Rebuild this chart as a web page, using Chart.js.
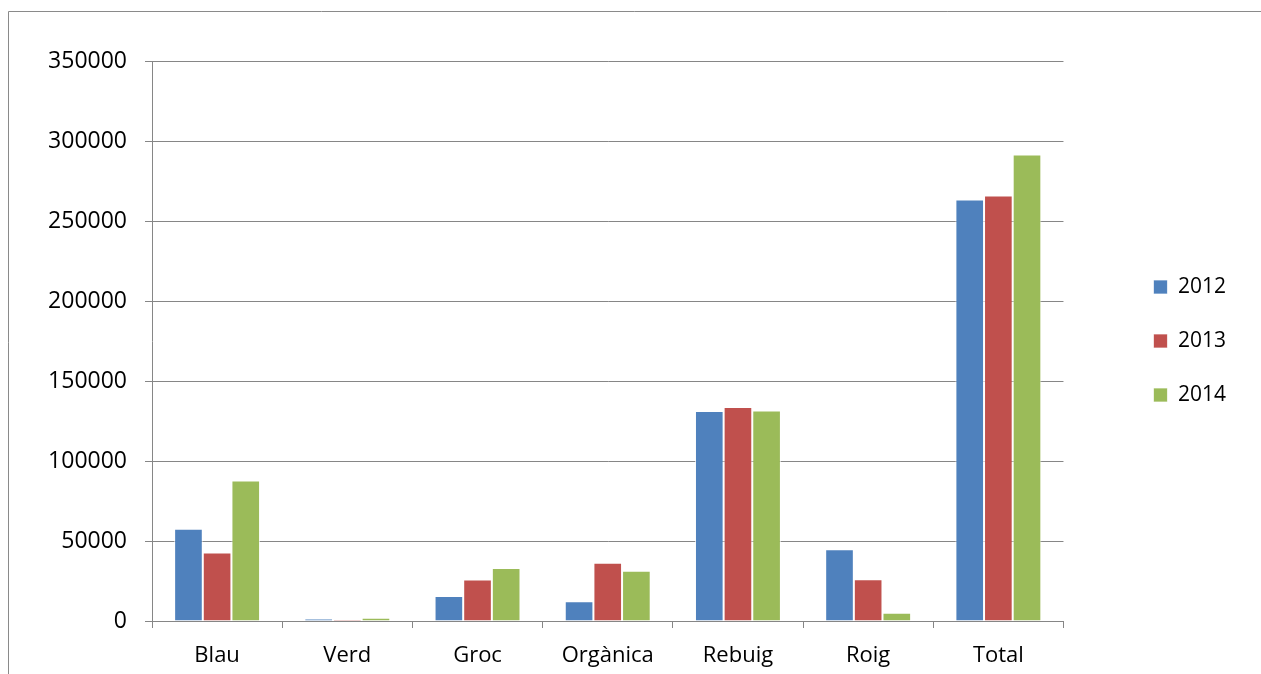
<!DOCTYPE html>
<html>
<head>
<meta charset="utf-8">
<script src="https://cdn.jsdelivr.net/npm/chart.js@4.4.1/dist/chart.umd.min.js"></script>
<style>
  html, body { margin: 0; padding: 0; background: #fff; }
  canvas { display: block; }
</style>
</head>
<body>
<canvas id="residus" width="1261" height="674"></canvas>
<script>
// Categories and series
const categories = ['Blau', 'Verd', 'Groc', 'Orgànica', 'Rebuig', 'Roig', 'Total'];
const years = ['2012', '2013', '2014'];
const values2012 = [57600, 1500, 15700, 12300, 131200, 44900, 263400];
const values2013 = [42800, 900, 25900, 36400, 133700, 26100, 265900];
const values2014 = [87800, 2000, 33200, 31400, 131600, 5100, 291600];
const yTicks = [0, 50000, 100000, 150000, 200000, 250000, 300000, 350000];

const colors = ['#4F81BD', '#C0504D', '#9BBB59'];
const gridGray = '#868686';
const fontFamily = '"Open Sans", "Noto Sans", sans-serif';

// thin frame like the Excel chart border
const framePlugin = {
    id: 'frame',
    afterDraw(chart) {
        const ctx = chart.ctx;
        ctx.save();
        ctx.strokeStyle = '#8A8A8A';
        ctx.lineWidth = 1;
        ctx.beginPath();
        ctx.moveTo(8.5, chart.height);
        ctx.lineTo(8.5, 11.5);
        ctx.lineTo(chart.width, 11.5);
        ctx.stroke();
        ctx.restore();
    }
};

const ctx = document.getElementById('residus').getContext('2d');

new Chart(ctx, {
    type: 'bar',
    data: {
        labels: categories,
        datasets: [
            { label: years[0], data: values2012, backgroundColor: colors[0] },
            { label: years[1], data: values2013, backgroundColor: colors[1] },
            { label: years[2], data: values2014, backgroundColor: colors[2] }
        ].map(ds => Object.assign(ds, {
            borderColor: 'rgba(255,255,255,0.7)',
            borderWidth: 1,
            categoryPercentage: 0.66,
            barPercentage: 1.0,
            yAxisID: 'y'
        }))
    },
    options: {
        responsive: false,
        animation: false,
        layout: { padding: { top: 61, left: 0, bottom: 0, right: 25 } },
        plugins: {
            legend: {
                position: 'right',
                fullSize: false,
                labels: {
                    boxWidth: 14,
                    boxHeight: 14,
                    padding: 33,
                    color: '#000',
                    font: { size: 21, family: fontFamily }
                }
            },
            tooltip: { enabled: false }
        },
        scales: {
            x: {
                grid: {
                    drawOnChartArea: false,
                    drawTicks: true,
                    tickLength: 7,
                    color: gridGray,
                    offset: true
                },
                border: { color: gridGray, width: 1 },
                ticks: {
                    color: '#000',
                    padding: 15,
                    font: { size: 22, family: fontFamily }
                },
                afterFit(scale) { scale.height = 53; }
            },
            y: {
                min: 0,
                max: 350000,
                afterBuildTicks(scale) {
                    scale.ticks = yTicks.map(v => ({ value: v }));
                },
                grid: {
                    color: gridGray,
                    tickLength: 7,
                    lineWidth: 1
                },
                border: { color: gridGray, width: 1 },
                ticks: {
                    color: '#000',
                    padding: 18,
                    font: { size: 23, family: fontFamily },
                    callback: v => String(v)
                },
                afterFit(scale) { scale.width = 152; }
            },
            // empty spacer between the plot and the legend
            gap: {
                type: 'linear',
                position: 'right',
                grid: { display: false },
                border: { display: false },
                ticks: { display: false },
                afterFit(scale) { scale.width = 57; }
            }
        }
    },
    plugins: [framePlugin]
});
</script>
</body>
</html>
